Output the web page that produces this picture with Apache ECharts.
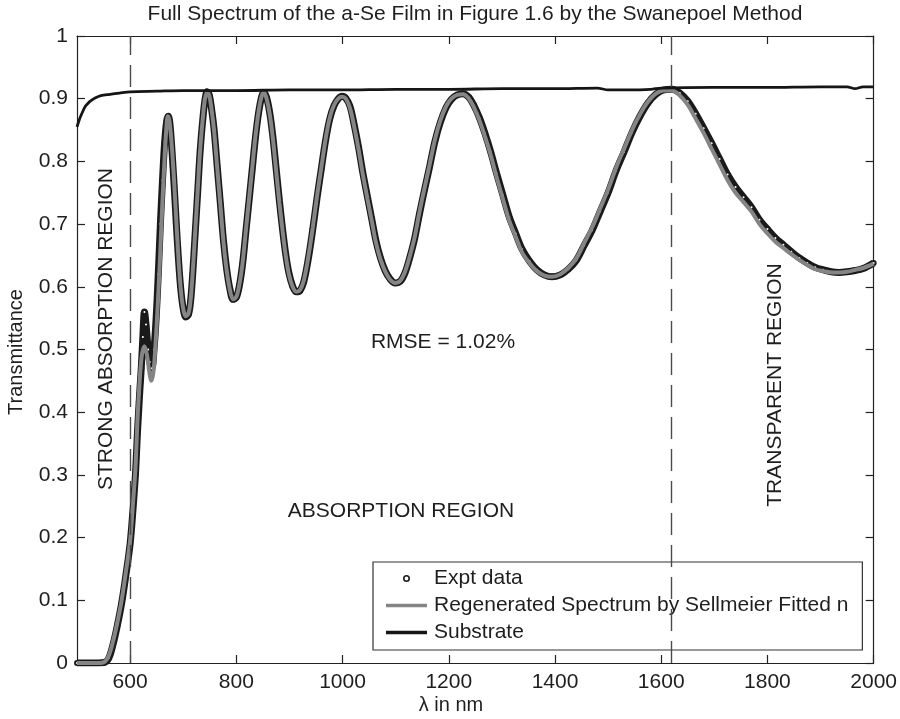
<!DOCTYPE html>
<html>
<head>
<meta charset="utf-8">
<script src="https://cdn.jsdelivr.net/npm/echarts@6/dist/echarts.min.js"></script>
<style>html,body{margin:0;padding:0;background:#fff;}#c{width:900px;height:719px;}</style>
</head>
<body>
<div id="c"></div>
<script>
// ---- data ----
const fitX = [500,520,540,552,560,568,576,584,592,600,605,610,614,618,622,627,632,636,640,644,648,652,656,660,664,668,671,674,678,682,686,690,694,699,705,710,714,718,722,727,732,737,741,745,749,753,758,764,770,776,782,788,794,800,806,812,818,824,830,836,842,848,852,857,863,869,875,881,887,893,899,906,913,920,927,935,944,952,960,968,976,984,992,999,1006,1014,1022,1030,1038,1047,1055,1063,1071,1080,1089,1099,1109,1118,1127,1136,1145,1155,1164,1174,1184,1195,1205,1216,1227,1238,1248,1258,1268,1279,1290,1302,1314,1326,1338,1352,1366,1380,1394,1410,1425,1440,1455,1470,1485,1500,1515,1530,1545,1560,1575,1590,1605,1620,1635,1650,1665,1680,1695,1710,1725,1740,1755,1770,1785,1800,1815,1830,1845,1860,1875,1890,1905,1920,1935,1950,1965,1980,2000];
const fitY = [0,0,0,0.002,0.012,0.035,0.065,0.10,0.145,0.195,0.25,0.31,0.39,0.45,0.49,0.505,0.49,0.465,0.45,0.465,0.51,0.57,0.64,0.72,0.79,0.85,0.872,0.865,0.83,0.78,0.72,0.66,0.61,0.57,0.553,0.558,0.58,0.625,0.68,0.75,0.82,0.87,0.9,0.91,0.905,0.885,0.85,0.79,0.73,0.67,0.625,0.595,0.58,0.584,0.605,0.64,0.69,0.74,0.79,0.84,0.88,0.905,0.91,0.9,0.875,0.835,0.785,0.735,0.69,0.65,0.62,0.6,0.592,0.595,0.61,0.645,0.695,0.745,0.79,0.835,0.87,0.89,0.9,0.903,0.9,0.885,0.855,0.82,0.78,0.74,0.705,0.67,0.645,0.625,0.612,0.606,0.61,0.625,0.65,0.68,0.72,0.76,0.795,0.835,0.865,0.888,0.9,0.906,0.907,0.9,0.885,0.865,0.84,0.81,0.775,0.74,0.705,0.68,0.655,0.638,0.625,0.618,0.616,0.62,0.63,0.645,0.67,0.695,0.725,0.755,0.79,0.82,0.85,0.875,0.895,0.908,0.913,0.913,0.905,0.89,0.868,0.845,0.82,0.795,0.77,0.75,0.735,0.72,0.70,0.685,0.672,0.662,0.652,0.643,0.635,0.628,0.625,0.623,0.623,0.624,0.627,0.63,0.637];

const exptX = [500,520,540,552,560,568,576,584,592,600,605,610,614,618,621,624,627,630,634,637,641,645,649,653,657,661,665,669,672,675,679,683,687,691,695,700,705,710,714,718,722,727,732,737,741,745,749,753,758,764,770,776,782,788,794,800,806,812,818,824,830,836,842,848,852,857,863,869,875,881,887,893,899,906,913,920,927,935,944,952,960,968,976,984,992,999,1006,1014,1022,1030,1038,1047,1055,1063,1071,1080,1089,1099,1109,1118,1127,1136,1145,1155,1164,1174,1184,1195,1205,1216,1227,1238,1248,1258,1268,1279,1290,1302,1314,1326,1338,1352,1366,1380,1394,1410,1425,1440,1455,1470,1485,1500,1515,1530,1545,1560,1575,1590,1605,1620,1635,1650,1665,1680,1695,1710,1725,1740,1755,1770,1785,1800,1815,1830,1845,1860,1875,1890,1905,1920,1935,1950,1965,1980,2000];
const exptY = [0,0,0,0.001,0.008,0.03,0.06,0.095,0.14,0.19,0.24,0.30,0.37,0.43,0.47,0.52,0.56,0.54,0.50,0.48,0.47,0.50,0.55,0.62,0.70,0.77,0.83,0.865,0.872,0.86,0.815,0.76,0.70,0.645,0.60,0.565,0.552,0.556,0.578,0.622,0.678,0.748,0.818,0.868,0.898,0.911,0.906,0.886,0.852,0.792,0.732,0.672,0.627,0.596,0.58,0.583,0.603,0.638,0.688,0.738,0.788,0.838,0.878,0.904,0.91,0.902,0.877,0.838,0.788,0.738,0.692,0.652,0.622,0.601,0.592,0.594,0.608,0.642,0.692,0.742,0.788,0.833,0.868,0.889,0.9,0.904,0.901,0.888,0.858,0.823,0.783,0.743,0.708,0.673,0.647,0.626,0.613,0.606,0.609,0.623,0.648,0.678,0.717,0.757,0.792,0.832,0.862,0.886,0.899,0.906,0.908,0.902,0.888,0.869,0.845,0.815,0.781,0.746,0.711,0.685,0.66,0.641,0.627,0.619,0.616,0.619,0.628,0.642,0.666,0.69,0.72,0.75,0.785,0.815,0.846,0.872,0.893,0.907,0.914,0.915,0.909,0.896,0.876,0.853,0.829,0.804,0.779,0.759,0.743,0.727,0.707,0.692,0.678,0.667,0.656,0.646,0.638,0.631,0.627,0.624,0.623,0.624,0.626,0.629,0.638];

const subX = [500,505,510,515,520,525,534,545,562,580,600,650,700,800,900,1000,1100,1200,1300,1400,1480,1500,1540,1580,1600,1700,1800,1900,1950,1965,1980,2000];
const subY = [0.855,0.868,0.878,0.887,0.892,0.896,0.901,0.905,0.907,0.909,0.911,0.912,0.913,0.913,0.914,0.914,0.915,0.915,0.916,0.916,0.917,0.914,0.914,0.915,0.917,0.918,0.918,0.919,0.919,0.916,0.919,0.919];

const xTicks = [600,800,1000,1200,1400,1600,1800,2000];
const regionLines = [600,1618];
const names = ['Expt data','Regenerated Spectrum by Sellmeier Fitted n','Substrate'];
const titleText = 'Full Spectrum of the a-Se Film in Figure 1.6 by the Swanepoel Method';

function zip(xs, ys){ return xs.map((x,i)=>[x, ys[i]]); }

const FONT = "'Liberation Sans', Arial, Helvetica, sans-serif";
const TXT = '#1e1e1e';
const chart = echarts.init(document.getElementById('c'), null, {renderer:'canvas'});

const baseX = {
  type:'value', min:500, max:2000,
  splitLine:{show:false},
  axisLine:{show:true, onZero:false, lineStyle:{color:'#222', width:1.2}},
  axisTick:{show:true, inside:true, length:8, customValues:xTicks, lineStyle:{color:'#222', width:1.2}},
};
const baseY = {
  type:'value', min:0, max:1, interval:0.1,
  splitLine:{show:false},
  axisLine:{show:true, onZero:false, lineStyle:{color:'#222', width:1.2}},
  axisTick:{show:true, inside:true, length:8, lineStyle:{color:'#222', width:1.2}},
};

const ringIcon = 'path://M0,-1A1,1,0,1,1,0,1A1,1,0,1,1,0,-1ZM0,-0.55A0.55,0.55,0,1,0,0,0.55A0.55,0.55,0,1,0,0,-0.55Z';
const barIcon = 'path://M0,0L41,0L41,3.5L0,3.5Z';

chart.setOption({
  animation:false,
  backgroundColor:'#fff',
  grid:{left:77, right:26, top:36, bottom:56},
  xAxis:[
    Object.assign({}, baseX, {position:'bottom',
      axisLabel:{show:true, customValues:xTicks, margin:9, color:TXT, fontSize:21, fontFamily:FONT,
        formatter:v=>String(v)}}),
    Object.assign({}, baseX, {position:'top', axisLabel:{show:false}})
  ],
  yAxis:[
    Object.assign({}, baseY, {position:'left',
      axisLabel:{show:true, margin:9, color:TXT, fontSize:21, fontFamily:FONT,
        formatter:v=>String(+v.toFixed(1))}}),
    Object.assign({}, baseY, {position:'right', axisLabel:{show:false}})
  ],
  legend:{
    orient:'vertical', left:373, top:562,
    padding:[6,14,7,13], itemGap:6, itemWidth:41, itemHeight:7,
    borderColor:'#333', borderWidth:1.2, backgroundColor:'#fff', borderRadius:0,
    textStyle:{color:TXT, fontSize:21, fontFamily:FONT, padding:[0,0,0,2]},
    data:[
      {name:names[0], icon:ringIcon, itemStyle:{color:'#1a1a1a', borderWidth:0}},
      {name:names[1], icon:barIcon, itemStyle:{color:'#858585', borderWidth:0}},
      {name:names[2], icon:barIcon, itemStyle:{color:'#151515', borderWidth:0}}
    ]
  },
  graphic:[
    {type:'text', x:475, y:14, style:{text:titleText, fill:TXT, font:'21px '+FONT, textAlign:'center', textVerticalAlign:'middle'}},
    {type:'text', x:451, y:705, style:{text:'λ in nm', fill:TXT, font:'20px '+FONT, textAlign:'center', textVerticalAlign:'middle'}},
    {type:'text', x:16, y:352, rotation:Math.PI/2, style:{text:'Transmittance', fill:TXT, font:'20px '+FONT, textAlign:'center', textVerticalAlign:'middle'}},
    {type:'text', x:106, y:329, rotation:Math.PI/2, style:{text:'STRONG ABSORPTION REGION', fill:TXT, font:'21px '+FONT, textAlign:'center', textVerticalAlign:'middle'}},
    {type:'text', x:775, y:385, rotation:Math.PI/2, style:{text:'TRANSPARENT REGION', fill:TXT, font:'21px '+FONT, textAlign:'center', textVerticalAlign:'middle'}},
    {type:'text', x:401, y:511, style:{text:'ABSORPTION REGION', fill:TXT, font:'21px '+FONT, textAlign:'center', textVerticalAlign:'middle'}},
    {type:'text', x:443, y:342, style:{text:'RMSE = 1.02%', fill:TXT, font:'21px '+FONT, textAlign:'center', textVerticalAlign:'middle'}}
  ],
  series:[
    {
      name:names[0], type:'line', data:zip(exptX, exptY), smooth:0.35, z:2,
      symbol:'emptyCircle', symbolSize:4, showSymbol:true,
      itemStyle:{color:'#1a1a1a', borderColor:'#1a1a1a', borderWidth:1.2},
      lineStyle:{color:'#1a1a1a', width:7},
      silent:true
    },
    {
      name:names[1], type:'line', data:zip(fitX, fitY), smooth:0.35, z:3,
      symbol:'none', showSymbol:false,
      itemStyle:{color:'#858585'},
      lineStyle:{color:'#858585', width:4},
      silent:true
    },
    {
      name:names[2], type:'line', data:zip(subX, subY), smooth:0.3, z:4,
      symbol:'none', showSymbol:false,
      itemStyle:{color:'#151515'},
      lineStyle:{color:'#151515', width:2.8},
      silent:true,
      markLine:{
        silent:true, symbol:['none','none'], label:{show:false},
        lineStyle:{color:'#4a4a4a', width:1.4, type:[22,10]},
        data:regionLines.map(v=>({xAxis:v}))
      }
    }
  ]
});
</script>
</body>
</html>
